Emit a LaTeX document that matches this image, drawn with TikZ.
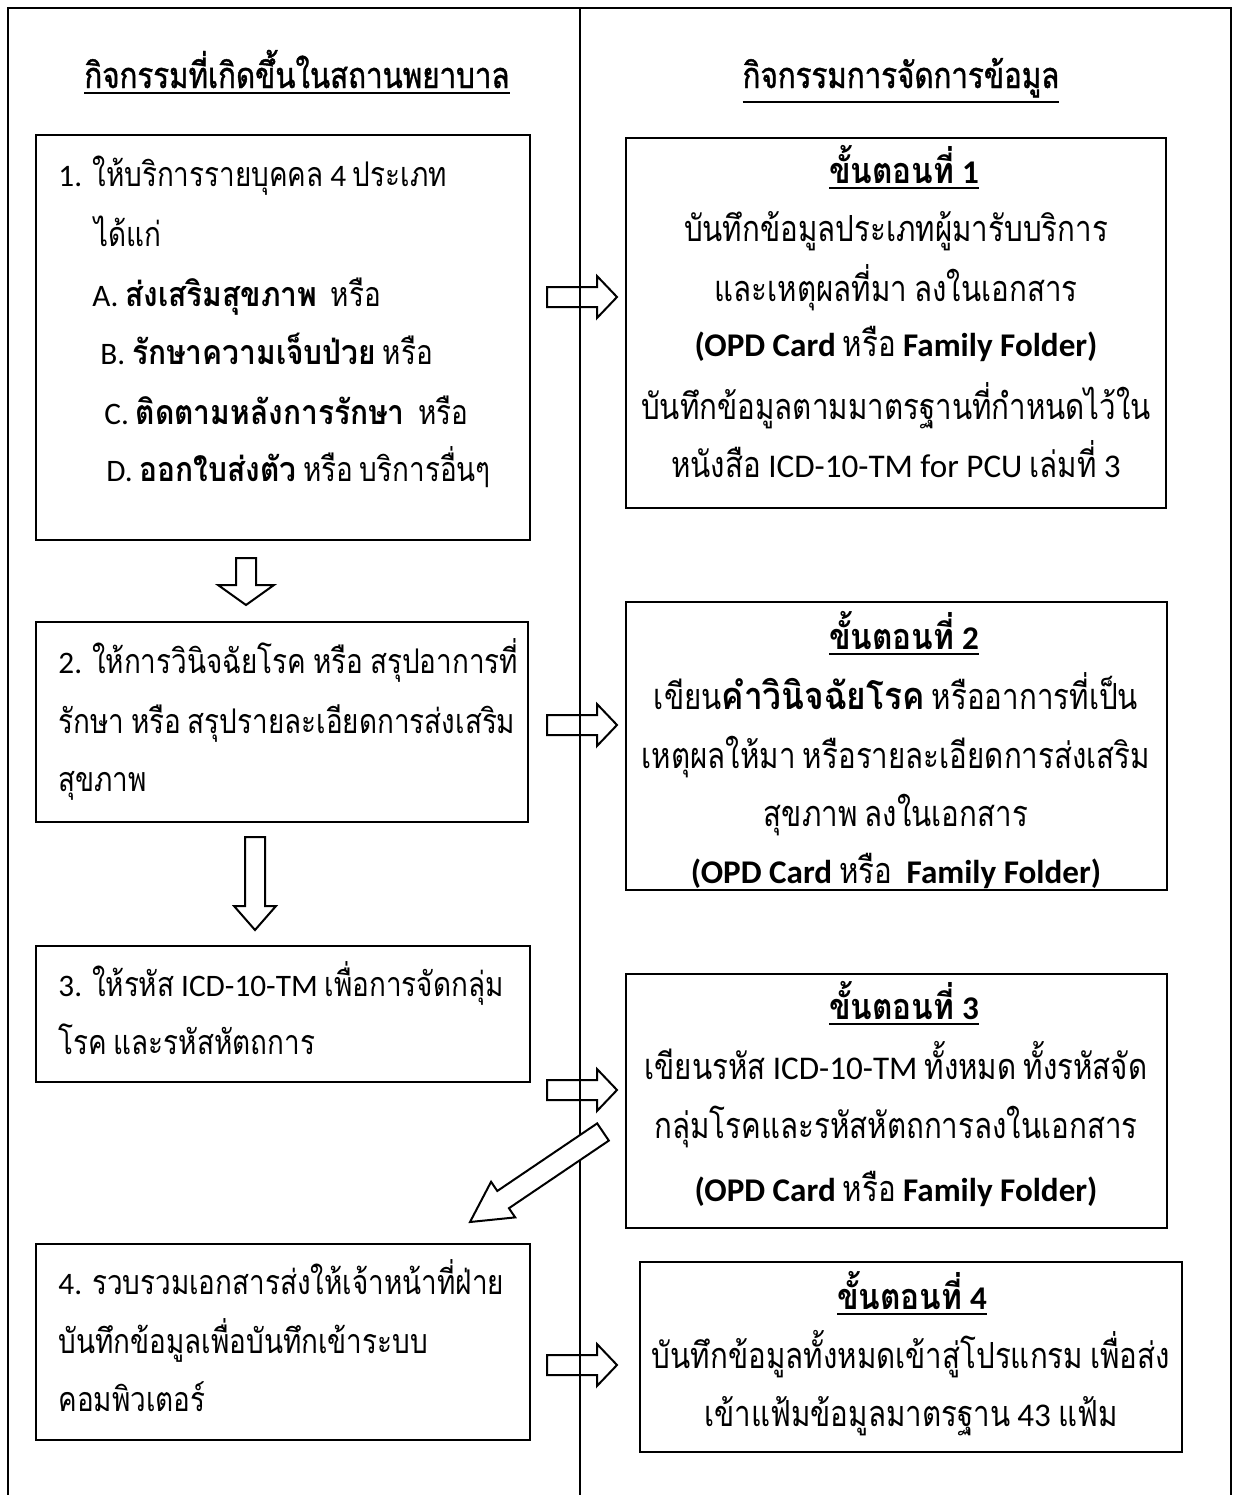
\documentclass[tikz,border=0pt]{standalone}
\usepackage{fontspec}
\setmainfont{Loma}[Script=Thai, FakeStretch=0.82, WordSpace=0.72, BoldFeatures={FakeStretch=0.88}]
\newfontfamily\hdr{Loma}[Script=Thai, FakeStretch=0.82, FakeBold=1.2, WordSpace=0.72]
\newfontfamily\lat{Carlito}[Scale=0.92]
\usetikzlibrary{calc,fit}

% underline with a firm rule a little below the baseline
\newcommand\uln[1]{\setbox0\hbox{#1}\leavevmode\vtop{\copy0\kern1.8pt\hrule height1.2pt width\wd0}}

% outlined block arrow from #2 (tail) to #3 (tip);
% #4 half shaft width, #5 half head width, #6 head length
\newcommand\blockarrow[6][]{%
  \coordinate (hb) at ($(#3)!#6!(#2)$);
  \draw[blk,#1] ($(#2)!#4!90:(#3)$) -- ($(hb)!#4!90:(#3)$) -- ($(hb)!#5!90:(#3)$)
    -- (#3) -- ($(hb)!#5!-90:(#3)$) -- ($(hb)!#4!-90:(#3)$) -- ($(#2)!#4!-90:(#3)$) -- cycle;}

\begin{document}
\begin{tikzpicture}[x=0.5pt,y=-0.5pt,
  frame/.style={line width=0.8pt},
  box/.style={draw, line width=1.3pt, inner sep=0pt},
  blk/.style={line width=1pt, line join=miter},
  tl/.style={inner sep=0pt, anchor=base west, font=\fontsize{17}{22}\selectfont},
  tc/.style={inner sep=0pt, anchor=base, font=\fontsize{18}{22}\selectfont}]

\useasboundingbox (0,0) rectangle (1236,1495);

% page frame and column divider
\draw[frame] (8,1495) -- (8,8) -- (1231,8) -- (1231,1495);
\draw[frame] (580,8) -- (580,1495);

% column headings
\node[tc] (hl) at (297,88) {\hdr\uln{กิจกรรมที่เกิดขึ้นในสถานพยาบาล}};
\node[tc] (hr) at (901,88) {\hdr\uln{กิจกรรมการจัดการข้อมูล}};

% left column boxes
\node[box, fit={(36,135) (530,540)}] (L1) {};
\node[box, fit={(36,622) (528,822)}] (L2) {};
\node[box, fit={(36,946) (530,1082)}] (L3) {};
\node[box, fit={(36,1244) (530,1440)}] (L4) {};

% right column boxes
\node[box, fit={(626,138) (1166,508)}] (R1) {};
\node[box, fit={(626,602) (1167,890)}] (R2) {};
\node[box, fit={(626,974) (1167,1228)}] (R3) {};
\node[box, fit={(640,1262) (1182,1452)}] (R4) {};

% box 1 (left)
\node[tl] (l1a) at (58,186) {\makebox[17pt][l]{\lat 1.}ให้บริการรายบุคคล {\lat 4} ประเภท};
\node[tl] (l1b) at (94,246) {ได้แก่};
\node[tl] (l1c) at (92,306) {{\lat A.} \textbf{ส่งเสริมสุขภาพ}\ \ หรือ};
\node[tl] (l1d) at (100,364) {{\lat B.} \textbf{รักษาความเจ็บป่วย} หรือ};
\node[tl] (l1e) at (104,424) {{\lat C.} \textbf{ติดตามหลังการรักษา}\ \ หรือ};
\node[tl] (l1f) at (106,481) {{\lat D.} \textbf{ออกใบส่งตัว} หรือ บริการอื่นๆ};

% step 1 (right)
\node[tc] (r1a) at (904,183) {\uln{\textbf{ขั้นตอนที่ {\lat 1}}}};
\node[tc] (r1b) at (896,241) {บันทึกข้อมูลประเภทผู้มารับบริการ};
\node[tc] (r1c) at (896,301) {และเหตุผลที่มา ลงในเอกสาร};
\node[tc] (r1d) at (896,356) {{\lat\bfseries (OPD Card} หรือ {\lat\bfseries Family Folder)}};
\node[tc] (r1e) at (896,419) {บันทึกข้อมูลตามมาตรฐานที่กำหนดไว้ใน};
\node[tc] (r1f) at (896,477) {หนังสือ {\lat ICD-10-TM for PCU} เล่มที่ {\lat 3}};

% box 2 (left)
\node[tl] (l2a) at (58,673) {{\lat 2.} ให้การวินิจฉัยโรค หรือ สรุปอาการที่};
\node[tl] (l2b) at (58,733) {รักษา หรือ สรุปรายละเอียดการส่งเสริม};
\node[tl] (l2c) at (58,791) {สุขภาพ};

% step 2 (right)
\node[tc] (r2a) at (904,649) {\uln{\textbf{ขั้นตอนที่ {\lat 2}}}};
\node[tc] (r2b) at (896,709) {เขียน{\fontsize{19}{22}\selectfont\bfseries คำวินิจฉัยโรค} หรืออาการที่เป็น};
\node[tc] (r2c) at (896,768) {เหตุผลให้มา หรือรายละเอียดการส่งเสริม};
\node[tc] (r2d) at (896,826) {สุขภาพ ลงในเอกสาร};
\node[tc] (r2e) at (896,883) {{\lat\bfseries (OPD Card} หรือ\ \ {\lat\bfseries Family Folder)}};

% box 3 (left)
\node[tl] (l3a) at (58,996) {{\lat 3.} ให้รหัส {\lat ICD-10-TM} เพื่อการจัดกลุ่ม};
\node[tl] (l3b) at (58,1054) {โรค และรหัสหัตถการ};

% step 3 (right)
\node[tc] (r3a) at (904,1019) {\uln{\textbf{ขั้นตอนที่ {\lat 3}}}};
\node[tc] (r3b) at (896,1079) {เขียนรหัส {\lat ICD-10-TM} ทั้งหมด ทั้งรหัสจัด};
\node[tc] (r3c) at (896,1138) {กลุ่มโรคและรหัสหัตถการลงในเอกสาร};
\node[tc] (r3d) at (896,1201) {{\lat\bfseries (OPD Card} หรือ {\lat\bfseries Family Folder)}};

% box 4 (left)
\node[tl] (l4a) at (58,1294) {{\lat 4.} รวบรวมเอกสารส่งให้เจ้าหน้าที่ฝ่าย};
\node[tl] (l4b) at (58,1353) {บันทึกข้อมูลเพื่อบันทึกเข้าระบบ};
\node[tl] (l4c) at (58,1411) {คอมพิวเตอร์};

% step 4 (right)
\node[tc] (r4a) at (912,1309) {\uln{\textbf{ขั้นตอนที่ {\lat 4}}}};
\node[tc] (r4b) at (911,1368) {บันทึกข้อมูลทั้งหมดเข้าสู่โปรแกรม เพื่อส่ง};
\node[tc] (r4c) at (911,1426) {เข้าแฟ้มข้อมูลมาตรฐาน {\lat 43} แฟ้ม};

% arrow end points
\coordinate (a1s) at (547,297);  \coordinate (a1e) at (617,297);
\coordinate (a2s) at (547,725);  \coordinate (a2e) at (617,725);
\coordinate (a3s) at (547,1090); \coordinate (a3e) at (617,1090);
\coordinate (a4s) at (547,1365); \coordinate (a4e) at (617,1365);
\coordinate (d1s) at (246,558);  \coordinate (d1e) at (246,605);
\coordinate (d2s) at (255,837);  \coordinate (d2e) at (255,930);
\coordinate (gs)  at (603,1132); \coordinate (ge)  at (470,1222);

% activity to data-step arrows
\blockarrow{a1s}{a1e}{5pt}{10.5pt}{10pt}
\blockarrow{a2s}{a2e}{5pt}{10.5pt}{10pt}
\blockarrow{a3s}{a3e}{5pt}{10.5pt}{10pt}
\blockarrow{a4s}{a4e}{5pt}{10.5pt}{10pt}

% downward arrows between activities
\blockarrow{d1s}{d1e}{5pt}{14pt}{10pt}
\blockarrow{d2s}{d2e}{5pt}{10.5pt}{12pt}

% step 3 back to activity 4
\blockarrow[fill=white]{gs}{ge}{5.2pt}{10.75pt}{20pt}

\end{tikzpicture}
\end{document}
